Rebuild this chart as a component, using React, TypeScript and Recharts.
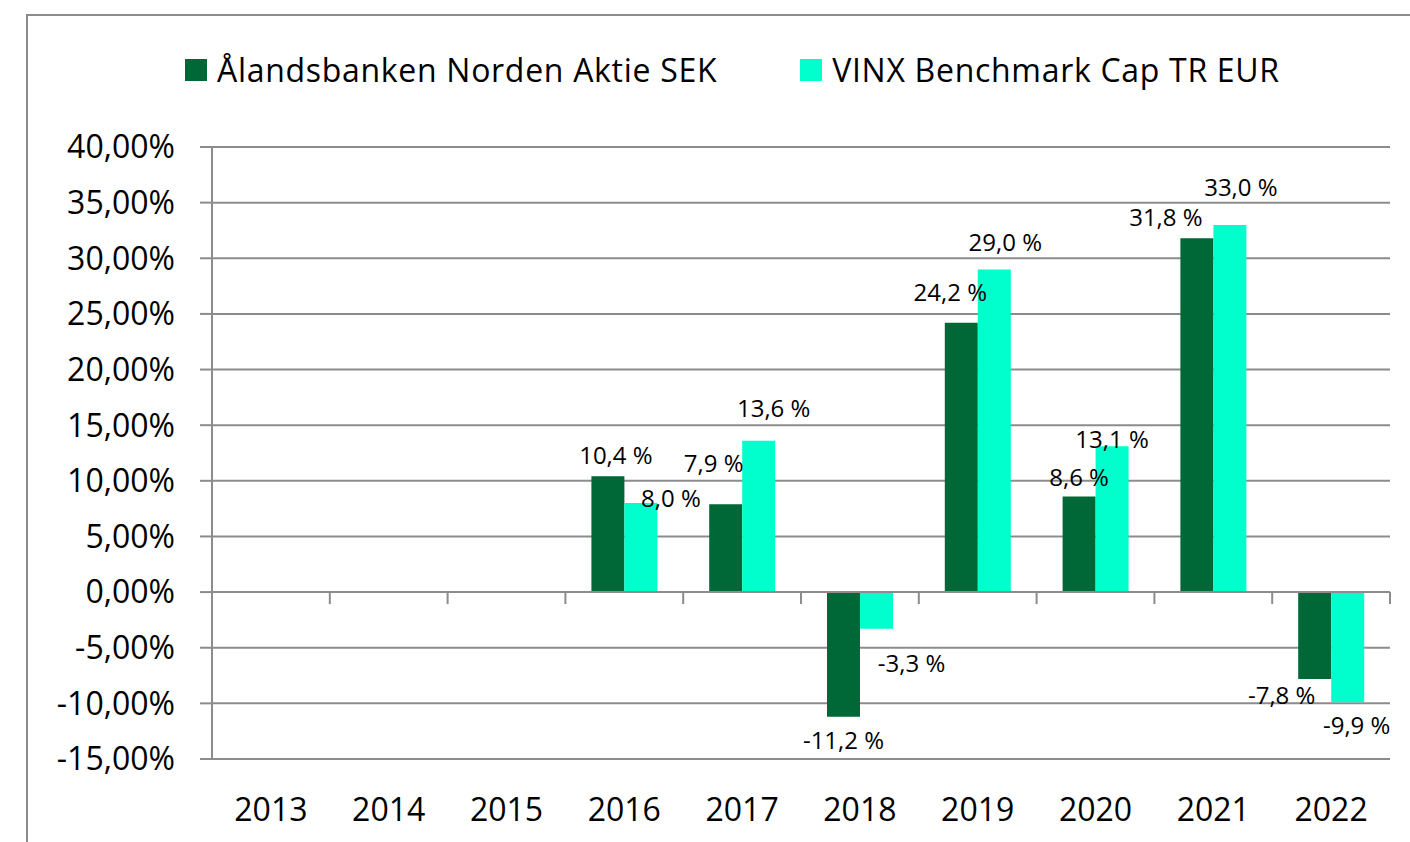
import React from 'react';
import {
  BarChart,
  Bar,
  XAxis,
  YAxis,
  CartesianGrid,
  Legend,
  LabelList,
  ReferenceLine
} from 'recharts';

const years = ['2013', '2014', '2015', '2016', '2017', '2018', '2019', '2020', '2021', '2022'];
const fundReturns = [null, null, null, 10.4, 7.9, -11.2, 24.2, 8.6, 31.8, -7.8];
const benchReturns = [null, null, null, 8.0, 13.6, -3.3, 29.0, 13.1, 33.0, -9.9];
const yTicks = [-15, -10, -5, 0, 5, 10, 15, 20, 25, 30, 35, 40];

const fundName = 'Ålandsbanken Norden Aktie SEK';
const benchName = 'VINX Benchmark Cap TR EUR';

// small nudges (dx, dy) for the data labels, the way they sit in the original
const fundNudge = [[0, 0], [0, 0], [0, 0], [8, 0], [-12, -20], [0, 0], [-11, -10], [0, 2], [-31, 0], [-33, -7]];
const benchNudge = [[0, 0], [0, 0], [0, 0], [30, 16], [15, -12], [35, 11], [11, -6], [0, 14], [11, -17], [9, 0]];

const DARK = '#006837';
const AQUA = '#00FFCC';
const GRAY = '#8c8c8c';
const FONT = '"Open Sans", "Noto Sans", sans-serif';

const data = years.map((year, i) => ({ year, fund: fundReturns[i], bench: benchReturns[i] }));

const fmtPct = (v: number) => v.toFixed(2).replace('.', ',') + '%';

const makeLabel = (values: (number | null)[], nudge: number[][]) => (props: any) => {
  const { x, y, width, height, value } = props;
  if (value == null) return null;
  // LabelList does not hand over the index, so look it up by value
  const idx = values.indexOf(Number(value));
  const top = Math.min(Number(y), Number(y) + Number(height));
  const bottom = Math.max(Number(y), Number(y) + Number(height));
  const [dx, dy] = nudge[idx] || [0, 0];
  const cx = Number(x) + Number(width) / 2 + dx;
  const baseY = Number(value) >= 0 ? top - 12 : bottom + 32;
  return (
    <text x={cx} y={baseY + dy} textAnchor="middle" fontSize={24} fill="#000" fontFamily={FONT}>
      {Number(value).toFixed(1).replace('.', ',')} %
    </text>
  );
};

const ZeroAxis = (props: any) => {
  const { x1, y1, x2, y2 } = props;
  const step = (x2 - x1) / years.length;
  return (
    <g>
      <line x1={x1} y1={y1} x2={x2} y2={y2} stroke={GRAY} strokeWidth={2} />
      {years.map((_, i) => {
        const x = x1 + step * (i + 1);
        return <line key={i} x1={x} x2={x} y1={y1} y2={y1 + 12} stroke={GRAY} strokeWidth={2} />;
      })}
    </g>
  );
};

const renderLegend = () => (
  <div
    style={{
      display: 'flex',
      alignItems: 'center',
      paddingLeft: 185,
      fontFamily: FONT,
      fontSize: 32,
      letterSpacing: 0.7,
      color: '#000',
      whiteSpace: 'nowrap'
    }}
  >
    <span style={{ width: 22, height: 22, background: DARK, marginRight: 10, flex: 'none' }} />
    <span>{fundName}</span>
    <span style={{ width: 22, height: 22, background: AQUA, marginLeft: 83, marginRight: 10, flex: 'none' }} />
    <span>{benchName}</span>
  </div>
);

export default function App() {
  return (
    <div style={{ position: 'fixed', left: 0, top: 0, width: 1410, height: 842, overflow: 'hidden', background: '#fff' }}>
      <div
        style={{
          position: 'absolute',
          left: 26,
          top: 14,
          width: 1420,
          height: 860,
          border: `2px solid ${GRAY}`,
          boxSizing: 'border-box'
        }}
      />
      <div style={{ position: 'absolute', left: 0, top: 0 }}>
        <BarChart
          width={1410}
          height={842}
          data={data}
          barGap={0}
          margin={{ top: 147, right: 20, left: 12, bottom: 0 }}
          style={{ fontFamily: FONT }}
        >
          <CartesianGrid vertical={false} stroke={GRAY} strokeWidth={2} />
          <XAxis
            dataKey="year"
            axisLine={false}
            tickLine={false}
            tickSize={0}
            tickMargin={39}
            height={83}
            interval={0}
            tick={{ fill: '#000', fontSize: 32, fontFamily: FONT }}
          />
          <YAxis
            domain={[-15, 40]}
            ticks={yTicks}
            interval={0}
            width={200}
            tickFormatter={fmtPct}
            axisLine={{ stroke: GRAY, strokeWidth: 2 }}
            tickLine={{ stroke: GRAY, strokeWidth: 2 }}
            tickSize={12}
            tickMargin={25}
            tick={{ fill: '#000', fontSize: 32, fontFamily: FONT }}
          />
          <Legend
            verticalAlign="middle"
            align="center"
            content={renderLegend}
            wrapperStyle={{ top: 48, left: 0, width: 1410 }}
          />
          <Bar dataKey="fund" name={fundName} fill={DARK} barSize={33} isAnimationActive={false}>
            <LabelList dataKey="fund" content={makeLabel(fundReturns, fundNudge)} />
          </Bar>
          <Bar dataKey="bench" name={benchName} fill={AQUA} barSize={33} isAnimationActive={false}>
            <LabelList dataKey="bench" content={makeLabel(benchReturns, benchNudge)} />
          </Bar>
          <ReferenceLine y={0} shape={ZeroAxis} />
        </BarChart>
      </div>
    </div>
  );
}
